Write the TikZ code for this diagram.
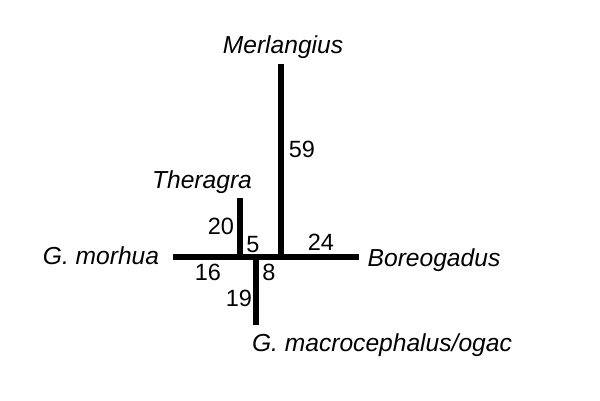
\documentclass[tikz,border=0pt]{standalone}
\usepackage{fontspec}
\setmainfont{Liberation Sans}
\begin{document}
\begin{tikzpicture}[yscale=-1
,branch/.style={color=black,line width=5.8pt,line cap=butt}
,taxon/.style={anchor=base,font=\fontsize{24.6}{28}\selectfont\itshape,inner sep=0pt}
,blen/.style={anchor=base,font=\fontsize{23.5}{27}\selectfont,inner sep=0pt}
]
\useasboundingbox (0pt,0pt) rectangle (600pt,400pt);
% junctions and tips
\coordinate (jthe) at (240pt,257pt);
\coordinate (jmac) at (256pt,257pt);
\coordinate (jmer) at (281pt,257pt);
\coordinate (tmor) at (173pt,257pt);
\coordinate (tbor) at (359pt,257pt);
\coordinate (tthe) at (240pt,198pt);
\coordinate (tmer) at (281pt,64pt);
\coordinate (tmac) at (256pt,325pt);
\draw[branch] (tmor) -- (jthe) -- (jmac) -- (jmer) -- (tbor);
\draw[branch] (jthe) -- (tthe);
\draw[branch] (jmer) -- (tmer);
\draw[branch] (jmac) -- (tmac);
% taxon names
\node (merlangius) at (283pt,53pt)[taxon]{Merlangius};
\node (theragra) at (202pt,188pt)[taxon]{Theragra};
\node (morhua) at (101pt,264pt)[taxon]{G. morhua};
\node (boreogadus) at (434pt,266pt)[taxon]{Boreogadus};
\node (macro) at (382pt,351pt)[taxon]{G. macrocephalus/ogac};
% branch lengths
\node (l59) at (302pt,157pt)[blen]{59};
\node (l20) at (221pt,234pt)[blen]{20};
\node (l5) at (253pt,252pt)[blen]{5};
\node (l24) at (321pt,250pt)[blen]{24};
\node (l16) at (208pt,280pt)[blen]{16};
\node (l8) at (269pt,280pt)[blen]{8};
\node (l19) at (239pt,306pt)[blen]{19};
\end{tikzpicture}
\end{document}
